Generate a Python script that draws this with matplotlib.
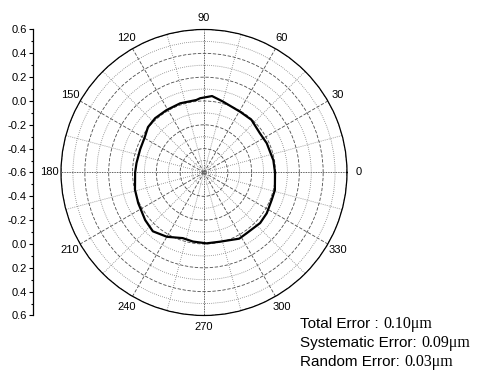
import numpy as np
import matplotlib
matplotlib.use('Agg')
import matplotlib.pyplot as plt

plt.rcParams['font.family'] = ['Liberation Sans', 'DejaVu Sans']

# roundness profile (angle in degrees, deviation)
theta_deg = [0, 10, 25, 35, 48, 59, 75, 84, 93, 96, 109, 121, 132, 141, 149,
             160, 172, 180, 194, 205, 219, 229, 240, 252, 261, 272, 283, 298,
             305, 318, 327, 338, 346, 360]
radius = [-0.004, -0.009, -0.019, -0.027, -0.005, -0.007, 0.016, 0.045, 0.024,
          0.012, 0.014, 0.011, 0.013, 0.005, -0.021, -0.030, -0.028, -0.022,
          -0.003, 0.009, 0.035, 0.054, 0.023, -0.021, -0.013, -0.005, -0.004,
          0.029, 0.023, 0.034, 0.028, 0.013, 0.013, -0.004]

angle_ticks = [0, 30, 60, 90, 120, 150, 180, 210, 240, 270, 300, 330]
left_ticks = [-1.2, -1.0, -0.8, -0.6, -0.4, -0.2, 0.0, 0.2, 0.4, 0.6, 0.8, 1.0, 1.2]
left_labels = ['0.6', '0.4', '0.2', '0.0', '-0.2', '-0.4', '-0.6',
               '-0.4', '-0.2', '0.0', '0.2', '0.4', '0.6']
error_names = ['Total Error : ', 'Systematic Error: ', 'Random Error: ']
error_values = ['0.10\u03bcm', '0.09\u03bcm', '0.03\u03bcm']

fig = plt.figure(figsize=(4.8, 3.7), dpi=100)

# polar axes
ax = fig.add_axes([0.1271, 0.1473, 0.5958, 0.773], projection='polar')
ax.set_ylim(-0.6, 0.6)
ax.set_yticks(np.arange(-0.4, 0.61, 0.2))
ax.set_yticks(np.arange(-0.5, 0.6, 0.2), minor=True)
ax.set_yticklabels([])
ax.set_xticks(np.deg2rad(angle_ticks))
ax.set_xticklabels([str(a) for a in angle_ticks], fontsize=8)
ax.set_xticks(np.deg2rad(np.arange(15, 360, 30)), minor=True)
ax.tick_params(axis='x', pad=-2)
ax.grid(which='major', color='0.3', linestyle=(0, (4, 2)), linewidth=0.6)
ax.grid(which='minor', color='0.5', linestyle=(0, (1, 1.5)), linewidth=0.6)
for i, gl in enumerate(ax.xaxis.get_gridlines()):
    if angle_ticks[i] % 90 == 0:
        gl.set_linestyle((0, (1, 1)))
        gl.set_color('0.15')
ax.spines['polar'].set_linewidth(0.9)

ax.plot(np.deg2rad(theta_deg), radius, color='black', linewidth=1.6)

# linear scale on the left
ax2 = fig.add_axes([0.06875, 0.1473, 0.01, 0.773])
ax2.set_ylim(-1.2, 1.2)
ax2.set_xlim(0, 1)
for s in ['top', 'right', 'bottom']:
    ax2.spines[s].set_visible(False)
ax2.spines['left'].set_linewidth(0.9)
ax2.set_xticks([])
ax2.set_yticks(left_ticks)
ax2.set_yticklabels(left_labels, fontsize=8)
ax2.set_yticks(np.arange(-1.1, 1.2, 0.2), minor=True)
ax2.tick_params(axis='y', which='major', length=3, width=0.8, pad=1.5)
ax2.tick_params(axis='y', which='minor', length=1.5, width=0.8)
ax2.patch.set_visible(False)

# error summary
renderer = fig.canvas.get_renderer()
x0 = 300 / 480
for i, (name, val) in enumerate(zip(error_names, error_values)):
    y = 1 - (328 + 19 * i) / 370
    t = fig.text(x0, y, name, fontsize=11, family='Liberation Sans', va='baseline')
    bb = t.get_window_extent(renderer)
    fig.text(bb.x1 / fig.bbox.width, y, val, fontsize=11.5,
             family='Liberation Serif', va='baseline')

fig.savefig('out.png', dpi=100)
